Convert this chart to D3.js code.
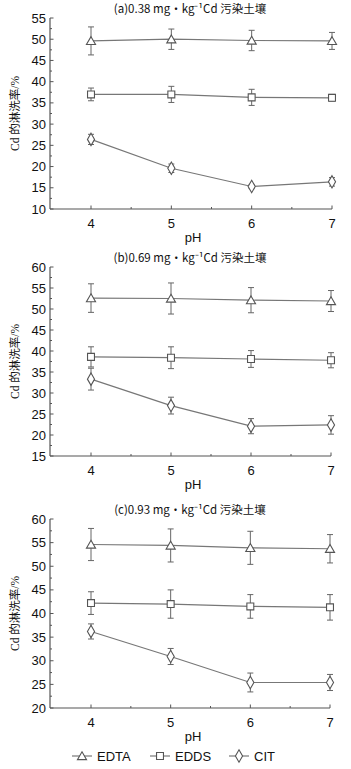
<!DOCTYPE html>
<html lang="zh">
<head>
<meta charset="UTF-8">
<title>Cd leaching</title>
<script src="https://d3js.org/d3.v7.min.js"></script>
<style>
  body { margin: 0; background: #fff; }
  svg { display: block; }
  .tick-lbl { font-family: "Liberation Sans Narrow", "Liberation Sans", Arial, sans-serif; font-size: 13px; fill: #111; }
  .ttl { font-family: "Liberation Sans Narrow", "Noto Sans CJK SC", sans-serif; font-size: 11.5px; fill: #111; }
  .ylab { font-family: "Liberation Serif", "Noto Sans CJK SC", serif; font-size: 11.5px; fill: #111; }
  .leg { font-family: "Liberation Sans Narrow", "Liberation Sans", sans-serif; font-size: 13px; fill: #111; }
</style>
</head>
<body>
<div id="chart"></div>
<script>
// pH values on the x axis
const phValues = [4, 5, 6, 7];
const seriesNames = ["EDTA", "EDDS", "CIT"];

// panel (a) 0.38 mg/kg
const edtaA = [49.6, 50.0, 49.7, 49.6];
const edtaAErr = [3.3, 2.4, 2.4, 2.0];
const eddsA = [37.0, 37.0, 36.3, 36.2];
const eddsAErr = [1.5, 1.9, 1.9, 0.8];
const citA = [26.4, 19.6, 15.3, 16.4];
const citAErr = [1.2, 1.0, 0.5, 1.0];

// panel (b) 0.69 mg/kg
const edtaB = [52.6, 52.5, 52.1, 51.9];
const edtaBErr = [3.4, 3.7, 3.0, 2.5];
const eddsB = [38.6, 38.4, 38.1, 37.8];
const eddsBErr = [2.4, 2.6, 2.0, 1.8];
const citB = [33.3, 27.0, 22.1, 22.4];
const citBErr = [2.6, 2.0, 1.8, 2.2];

// panel (c) 0.93 mg/kg
const edtaC = [54.6, 54.4, 53.9, 53.7];
const edtaCErr = [3.4, 3.5, 3.5, 3.0];
const eddsC = [42.2, 42.0, 41.5, 41.3];
const eddsCErr = [2.4, 3.0, 2.5, 2.7];
const citC = [36.2, 30.9, 25.4, 25.4];
const citCErr = [1.6, 1.7, 2.0, 1.7];

const yTicksA = [10, 15, 20, 25, 30, 35, 40, 45, 50, 55];
const yTicksB = [15, 20, 25, 30, 35, 40, 45, 50, 55, 60];
const yTicksC = [20, 25, 30, 35, 40, 45, 50, 55, 60];

const titles = [
  "(a)0.38 mg\u00b7kg\u207b\u00b9Cd 污染土壤",
  "(b)0.69 mg\u00b7kg\u207b\u00b9Cd 污染土壤",
  "(c)0.93 mg\u00b7kg\u207b\u00b9Cd 污染土壤"
];

const panels = [
  { title: titles[0], ticks: yTicksA, top: 18, bottom: 209, x7: 332,
    series: [[edtaA, edtaAErr], [eddsA, eddsAErr], [citA, citAErr]] },
  { title: titles[1], ticks: yTicksB, top: 267, bottom: 456, x7: 331,
    series: [[edtaB, edtaBErr], [eddsB, eddsBErr], [citB, citBErr]] },
  { title: titles[2], ticks: yTicksC, top: 519, bottom: 708, x7: 330,
    series: [[edtaC, edtaCErr], [eddsC, eddsCErr], [citC, citCErr]] }
];

const W = 351, H = 769;
const axisColor = "#555";
const lineColor = "#777";
const markers = [d3.symbolTriangle, d3.symbolSquare, d3.symbolDiamond];
const markerSize = [36, 48, 44];

const svg = d3.select("#chart").append("svg")
  .attr("width", W).attr("height", H);

function drawMarker(g, i, x, y) {
  g.append("path")
    .attr("d", d3.symbol().type(markers[i]).size(markerSize[i])())
    .attr("transform", `translate(${x},${y + (i === 0 ? 1 : 0)})`)
    .attr("fill", "#fff")
    .attr("stroke", "#555")
    .attr("stroke-width", 1.1);
}

panels.forEach(p => {
  const t = p.ticks;
  const x = d3.scaleLinear().domain([3.5, 7]).range([p.x7 - 3.5 * (p.x7 - 91) / 3, p.x7]);
  const y = d3.scaleLinear().domain([t[0], t[t.length - 1]]).range([p.bottom, p.top]);
  const g = svg.append("g");
  const x0 = 50;

  // y axis with inward ticks
  const minorY = d3.range(t[0], t[t.length - 1] + 0.01, 2.5);
  g.append("line").attr("x1", x0).attr("x2", x0).attr("y1", y.range()[1]).attr("y2", y.range()[0])
    .attr("stroke", axisColor).attr("stroke-width", 1.2);
  g.selectAll(".ym").data(minorY).enter().append("line")
    .attr("x1", x0).attr("x2", (d) => x0 + (t.includes(d) ? 3.5 : 2))
    .attr("y1", d => y(d)).attr("y2", d => y(d))
    .attr("stroke", axisColor).attr("stroke-width", 1);
  g.selectAll(".yl").data(t).enter().append("text")
    .attr("class", "tick-lbl")
    .attr("x", x0 - 4).attr("y", d => y(d) + 4.5)
    .attr("text-anchor", "end")
    .text(d => d);

  // x axis
  g.append("line").attr("x1", x0).attr("x2", x(7)).attr("y1", p.bottom).attr("y2", p.bottom)
    .attr("stroke", axisColor).attr("stroke-width", 1.2);
  const minorX = [4, 4.5, 5, 5.5, 6, 6.5, 7];
  g.selectAll(".xm").data(minorX).enter().append("line")
    .attr("x1", d => x(d)).attr("x2", d => x(d))
    .attr("y1", p.bottom).attr("y2", d => p.bottom - (Number.isInteger(d) ? 3.5 : 2))
    .attr("stroke", axisColor).attr("stroke-width", 1);
  g.selectAll(".xl").data(phValues).enter().append("text")
    .attr("class", "tick-lbl")
    .attr("x", d => x(d)).attr("y", p.bottom + 19)
    .attr("text-anchor", "middle")
    .text(d => d);

  g.append("text").attr("class", "tick-lbl")
    .attr("x", 193).attr("y", p.bottom + 33)
    .attr("text-anchor", "middle").text("pH");

  g.append("text").attr("class", "ttl")
    .attr("x", 190).attr("y", p.top - 5 + (p.top === 18 ? 0 : 0))
    .attr("text-anchor", "middle").text(p.title);

  g.append("text").attr("class", "ylab")
    .attr("transform", `translate(19,${(p.top + p.bottom) / 2}) rotate(-90)`)
    .attr("text-anchor", "middle").text("Cd 的淋洗率/%");

  const line = d3.line().x((d, i) => x(phValues[i])).y(d => y(d));
  p.series.forEach(([vals, errs], si) => {
    g.append("path").datum(vals).attr("d", line)
      .attr("fill", "none").attr("stroke", lineColor).attr("stroke-width", 1.2);
    vals.forEach((v, i) => {
      const cx = x(phValues[i]);
      const lo = y(v - errs[i]), hi = y(v + errs[i]);
      g.append("line").attr("x1", cx).attr("x2", cx).attr("y1", lo).attr("y2", hi)
        .attr("stroke", "#666").attr("stroke-width", 1);
      [lo, hi].forEach(yy => g.append("line")
        .attr("x1", cx - 3).attr("x2", cx + 3).attr("y1", yy).attr("y2", yy)
        .attr("stroke", "#666").attr("stroke-width", 1));
      drawMarker(g, si, cx, y(v));
    });
  });
});

// legend
const legX = [82, 160, 239];
const lg = svg.append("g");
seriesNames.forEach((name, i) => {
  const cx = legX[i], cy = 756;
  lg.append("line").attr("x1", cx - 10).attr("x2", cx + 10).attr("y1", cy).attr("y2", cy)
    .attr("stroke", lineColor).attr("stroke-width", 1.2);
  drawMarker(lg, i, cx, cy);
  lg.append("text").attr("class", "leg")
    .attr("x", cx + 15).attr("y", cy + 4.5).text(name);
});
</script>
</body>
</html>
